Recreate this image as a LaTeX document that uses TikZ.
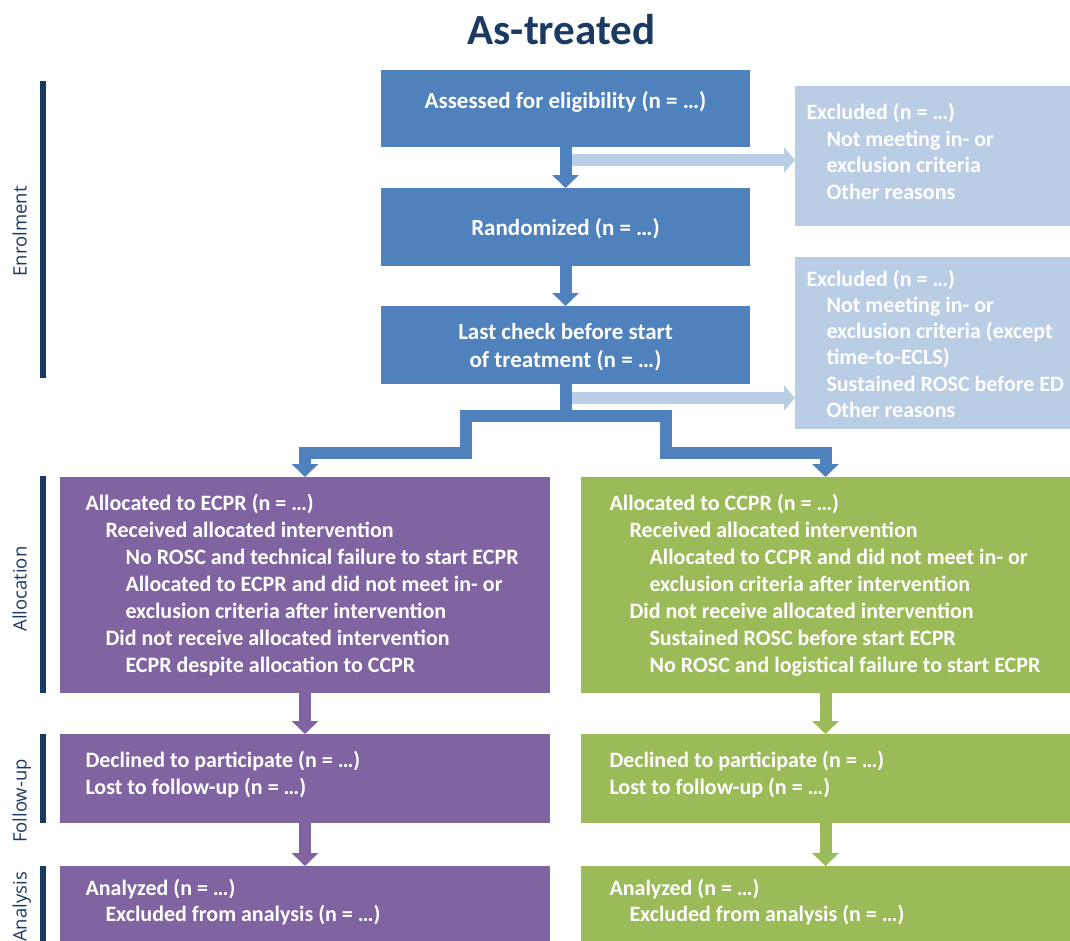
\documentclass[tikz,border=0pt]{standalone}
\usepackage{fontspec}
\setmainfont{Carlito}
\newfontfamily\sidefont{Open Sans}
\usetikzlibrary{arrows.meta}

\definecolor{boxblue}{HTML}{4F81BD}
\definecolor{paleblue}{HTML}{B9CDE5}
\definecolor{ecprpurple}{HTML}{8064A2}
\definecolor{ccprgreen}{HTML}{9BBB59}
\definecolor{navy}{HTML}{1B3A62}

% invisible strut fixing the first baseline 19pt below a text node's top
\newcommand{\firstline}{\rule{0pt}{19pt}}
\newcommand{\ind}[1]{\hspace*{#1pt}}

\begin{document}
\begin{tikzpicture}[x=1pt, y=-1pt,
  every node/.style={inner sep=0pt, outer sep=0pt},
  panel/.style={rectangle, anchor=north west, fill=#1},
  boxtext/.style={text=white, anchor=north west, align=left,
    font=\bfseries\fontsize{22}{#1}\selectfont},
  boxtext/.default=26.8,
  midtext/.style={text=white, align=center,
    font=\bfseries\fontsize{23}{27.5}\selectfont},
  phase/.style={text=navy, rotate=90, anchor=base,
    font=\sidefont\fontsize{18.5}{20}\selectfont},
  phasebar/.style={draw=navy, line width=6.5pt},
  flow/.style={draw=#1, line width=12pt, line join=miter,
    -{Triangle[width=26pt,length=13pt]}},
  sideflow/.style={draw=paleblue, line width=12pt,
    -{Triangle[width=25pt,length=11pt]}}
]
\useasboundingbox (0,0) rectangle (1070,940);
\clip (0,0) rectangle (1070,940);

% title
\node[text=navy, anchor=base, font=\bfseries\fontsize{43}{50}\selectfont]
  (title) at (561.5,44) {As-treated};

% phase labels and bars
\node[phase] (lenrol) at (26.7,231.5) {Enrolment};
\node[phase] (lalloc) at (26.7,589) {Allocation};
\node[phase] (lfollow) at (26.7,801) {Follow-up};
\node[phase] (lanalys) at (26.7,907) {Analysis};
\draw[phasebar] (43,81) -- (43,378);
\draw[phasebar] (43,476) -- (43,693);
\draw[phasebar] (43,734) -- (43,823);
\draw[phasebar] (43,866) -- (43,945);

% enrolment boxes
\node[panel=boxblue, minimum width=369pt, minimum height=77pt] (assess) at (381,70) {};
\node[panel=boxblue, minimum width=369pt, minimum height=78pt] (rand) at (381,188) {};
\node[panel=boxblue, minimum width=369pt, minimum height=78pt] (check) at (381,306) {};
\node[panel=paleblue, minimum width=275pt, minimum height=140pt] (excl1) at (795,86) {};
\node[panel=paleblue, minimum width=275pt, minimum height=172pt] (excl2) at (795,257) {};

\node[midtext, anchor=base] (tassess) at (565.5,108.5) {Assessed for eligibility (n = …)};
\node[midtext, anchor=base] (trand) at (565.5,235.5) {Randomized (n = …)};
\node[midtext, anchor=north] (tcheck) at (565.5,320.5)
  {\firstline Last check before start\\ of treatment (n = …)};

\node[boxtext=26.5] (texcl1) at (806.5,100.5)
  {\firstline Excluded (n = …)\\
   \ind{20}Not meeting in- or\\
   \ind{20}exclusion criteria\\
   \ind{20}Other reasons};
\node[boxtext=26.3] (texcl2) at (806.5,267)
  {\firstline Excluded (n = …)\\
   \ind{20}Not meeting in- or\\
   \ind{20}exclusion criteria (except\\
   \ind{20}time-to-ECLS)\\
   \ind{20}Sustained ROSC before ED\\
   \ind{20}Other reasons};

% allocation, follow-up and analysis boxes
\node[panel=ecprpurple, minimum width=490pt, minimum height=216pt] (ecpr) at (60,477) {};
\node[panel=ccprgreen, minimum width=489pt, minimum height=216pt] (ccpr) at (581,477) {};
\node[panel=ecprpurple, minimum width=490pt, minimum height=89pt] (fupl) at (60,734) {};
\node[panel=ccprgreen, minimum width=489pt, minimum height=89pt] (fupr) at (581,734) {};
\node[panel=ecprpurple, minimum width=490pt, minimum height=80pt] (anl) at (60,866) {};
\node[panel=ccprgreen, minimum width=489pt, minimum height=80pt] (anr) at (581,866) {};

\node[boxtext=27.1] (tecpr) at (85.5,491)
  {\firstline Allocated to ECPR (n = …)\\
   \ind{20}Received allocated intervention\\
   \ind{40}No ROSC and technical failure to start  ECPR\\
   \ind{40}Allocated to ECPR and did not meet in- or\\
   \ind{40}exclusion criteria  after intervention\\
   \ind{20}Did not receive allocated intervention\\
   \ind{40}ECPR despite allocation to CCPR};
\node[boxtext=27.1] (tccpr) at (609.5,491)
  {\firstline Allocated to CCPR (n = …)\\
   \ind{20}Received allocated intervention\\
   \ind{40}Allocated to CCPR and did not meet in- or\\
   \ind{40}exclusion criteria  after intervention\\
   \ind{20}Did not receive allocated intervention\\
   \ind{40}Sustained ROSC before start ECPR\\
   \ind{40}No ROSC and logistical failure to start ECPR};

\node[boxtext=26.5] (tfupl) at (85.5,748.5)
  {\firstline Declined to participate  (n = …)\\ Lost to follow-up (n = …)};
\node[boxtext=26.5] (tfupr) at (609.5,748.5)
  {\firstline Declined to participate (n = …)\\ Lost to follow-up (n = …)};
\node[boxtext=26.5] (tanl) at (85.5,876)
  {\firstline Analyzed (n = …)\\ \ind{20}Excluded from analysis (n = …)};
\node[boxtext=26.5] (tanr) at (609.5,876)
  {\firstline Analyzed (n = …)\\ \ind{20}Excluded from analysis (n = …)};

% connectors
\coordinate (j1) at (566,160);
\coordinate (j2) at (566,398);
\coordinate (hub) at (565.5,416);
\coordinate (kl1) at (466,416);
\coordinate (kl2) at (466,453);
\coordinate (kr1) at (666,416);
\coordinate (kr2) at (666,453);

\draw[sideflow] (j1) -- (j1 -| excl1.west);
\draw[sideflow] (j2) -- (j2 -| excl2.west);
\draw[flow=boxblue] (assess.south) -- (rand.north);
\draw[flow=boxblue] (rand.south) -- (check.north);
\draw[flow=boxblue] (check.south) -- (hub) -- (kl1) -- (kl2) -| (ecpr.north);
\draw[flow=boxblue] (hub) -- (kr1) -- (kr2) -| (ccpr.north);
\draw[flow=ecprpurple] (ecpr.south) -- (fupl.north);
\draw[flow=ecprpurple] (fupl.south) -- (anl.north);
\draw[flow=ccprgreen] (ccpr.south) -- (fupr.north);
\draw[flow=ccprgreen] (fupr.south) -- (anr.north);
\end{tikzpicture}
\end{document}
